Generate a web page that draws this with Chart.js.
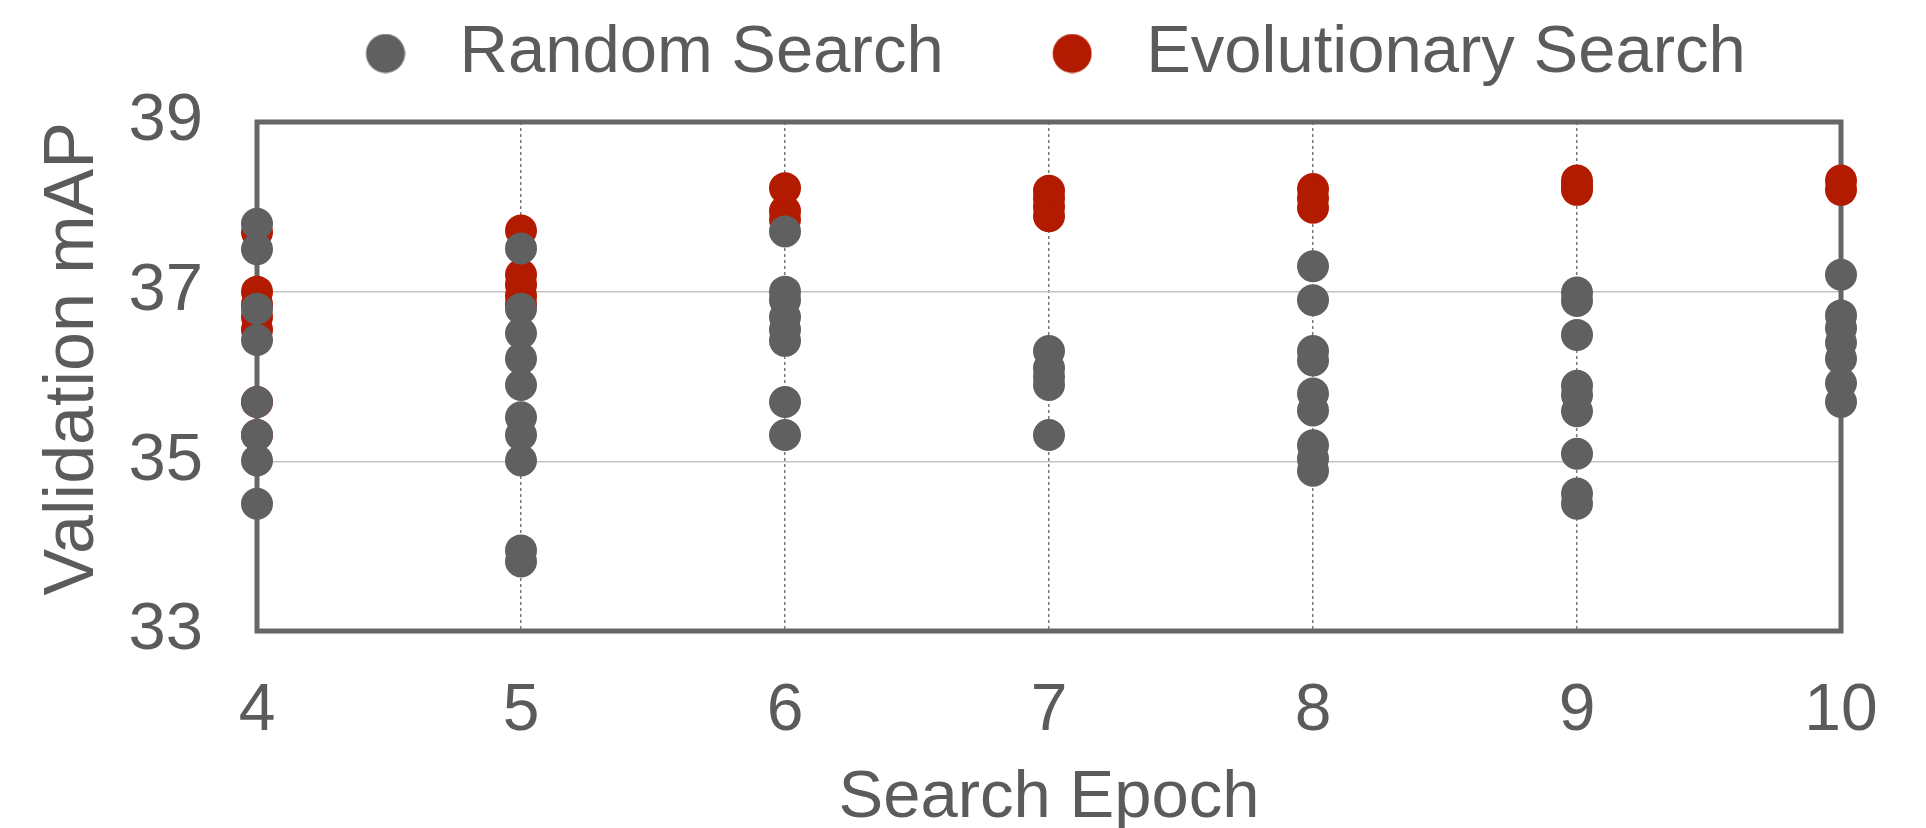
<!DOCTYPE html>
<html>
<head>
<meta charset="utf-8">
<script src="https://cdn.jsdelivr.net/npm/chart.js@4.4.1/dist/chart.umd.min.js"></script>
<style>
  html, body { margin: 0; padding: 0; background: #ffffff; }
  #wrap { width: 1926px; height: 828px; }
</style>
</head>
<body>
<div id="wrap"><canvas id="chart" width="1926" height="828"></canvas></div>
<script>
// Search epochs on the x axis
const epochs = [4, 5, 6, 7, 8, 9, 10];

// Validation mAP of sampled architectures, one list per epoch
const randomSearch = [
  [37.80, 37.50, 36.80, 36.43, 35.70, 35.31, 35.01, 34.50],
  [37.51, 36.80, 36.51, 36.21, 35.90, 35.52, 35.31, 35.01, 33.95, 33.82],
  [37.71, 37.00, 36.90, 36.70, 36.55, 36.42, 35.70, 35.31],
  [36.30, 36.10, 36.00, 35.90, 35.31],
  [37.30, 36.90, 36.30, 36.19, 35.80, 35.60, 35.19, 35.03, 34.89],
  [36.99, 36.89, 36.49, 35.89, 35.78, 35.59, 35.09, 34.62, 34.50],
  [37.20, 36.72, 36.57, 36.40, 36.21, 35.92, 35.70]
];

const evolutionarySearch = [
  [37.70, 37.00, 36.85, 36.70, 36.55, 35.70, 35.31],
  [37.72, 37.20, 37.08, 36.95, 36.85],
  [38.22, 37.95, 37.85],
  [38.19, 38.10, 38.00, 37.89],
  [38.21, 38.10, 37.99],
  [38.31, 38.25, 38.20],
  [38.31, 38.20]
];

const yTicks = [33, 35, 37, 39];
const seriesNames = ['Random Search', 'Evolutionary Search'];
const seriesColors = ['#606060', '#b31b00'];

const toPoints = (lists) => lists.flatMap((vals, i) => vals.map(v => ({ x: epochs[i], y: v })));

const textColor = '#5b5b5b';
const fontFamily = '"Liberation Sans", Arimo, Helvetica, Arial, sans-serif';

// Legend marker: a filled circle set off-centre inside a wider image
function legendMarker(color) {
  const c = document.createElement('canvas');
  c.width = 112; c.height = 40;
  const g = c.getContext('2d');
  g.fillStyle = color;
  g.beginPath();
  g.arc(92, 20, 19.5, 0, Math.PI * 2);
  g.fill();
  return c;
}
const markers = seriesColors.map(legendMarker);

// Plot frame drawn over the grid and under the points
const framePlugin = {
  id: 'frame',
  beforeDatasetsDraw(chart) {
    const { ctx, chartArea: a } = chart;
    ctx.save();
    ctx.strokeStyle = '#666666';
    ctx.lineWidth = 5;
    ctx.strokeRect(a.left, a.top, a.right - a.left, a.bottom - a.top);
    ctx.restore();
  }
};

new Chart(document.getElementById('chart'), {
  type: 'scatter',
  data: {
    datasets: [
      {
        label: seriesNames[0],
        data: toPoints(randomSearch),
        backgroundColor: seriesColors[0],
        borderWidth: 0,
        pointRadius: 16,
        pointHoverRadius: 16,
        clip: false
      },
      {
        label: seriesNames[1],
        data: toPoints(evolutionarySearch),
        backgroundColor: seriesColors[1],
        borderWidth: 0,
        pointRadius: 16,
        pointHoverRadius: 16,
        clip: false
      }
    ]
  },
  options: {
    responsive: false,
    animation: false,
    devicePixelRatio: 1,
    layout: { padding: { left: 0, right: 85, top: 4, bottom: 0 } },
    plugins: {
      tooltip: { enabled: false },
      legend: {
        position: 'top',
        align: 'start',
        fullSize: false,
        labels: {
          usePointStyle: true,
          pointStyleWidth: 153,
          boxHeight: 40,
          padding: 16,
          color: textColor,
          font: { family: fontFamily, size: 67 },
          generateLabels(chart) {
            const items = Chart.defaults.plugins.legend.labels.generateLabels(chart);
            items.forEach((it) => { it.pointStyle = markers[it.datasetIndex]; });
            return items;
          }
        }
      },
      title: {
        display: true,
        text: '',
        position: 'top',
        fullSize: false,
        weight: 500,
        padding: 0,
        font: { size: 20, lineHeight: 1.25 }
      }
    },
    scales: {
      x: {
        type: 'linear',
        min: epochs[0],
        max: epochs[epochs.length - 1],
        afterFit(scale) { scale.height = 197; },
        afterBuildTicks(scale) { scale.ticks = epochs.map(v => ({ value: v })); },
        ticks: {
          color: textColor,
          padding: 41,
          font: { family: fontFamily, size: 66 },
          callback: (v) => String(v)
        },
        grid: {
          drawTicks: false,
          color: (ctx) => (ctx.tick && (ctx.tick.value === epochs[0] || ctx.tick.value === epochs[epochs.length - 1])) ? 'rgba(0,0,0,0)' : '#7a7a7a',
          lineWidth: 1.5
        },
        border: { display: false, dash: [3, 3] },
        title: {
          display: true,
          text: 'Search Epoch',
          color: textColor,
          padding: 0,
          font: { family: fontFamily, size: 67, lineHeight: 0.88 }
        }
      },
      y: {
        min: yTicks[0],
        max: yTicks[yTicks.length - 1],
        afterFit(scale) { scale.width = 257; },
        afterBuildTicks(scale) { scale.ticks = yTicks.map(v => ({ value: v })); },
        ticks: {
          color: textColor,
          padding: 54,
          font: { family: fontFamily, size: 67 }
        },
        grid: {
          drawTicks: false,
          color: (ctx) => (ctx.tick && (ctx.tick.value === yTicks[0] || ctx.tick.value === yTicks[yTicks.length - 1])) ? 'rgba(0,0,0,0)' : '#c4c4c4',
          lineWidth: 1.5
        },
        border: { display: false },
        title: {
          display: true,
          text: 'Validation mAP',
          align: 'end',
          color: textColor,
          padding: { top: 32, bottom: 0 },
          font: { family: fontFamily, size: 70, lineHeight: 1.2 }
        }
      }
    }
  },
  plugins: [framePlugin]
});
</script>
</body>
</html>
